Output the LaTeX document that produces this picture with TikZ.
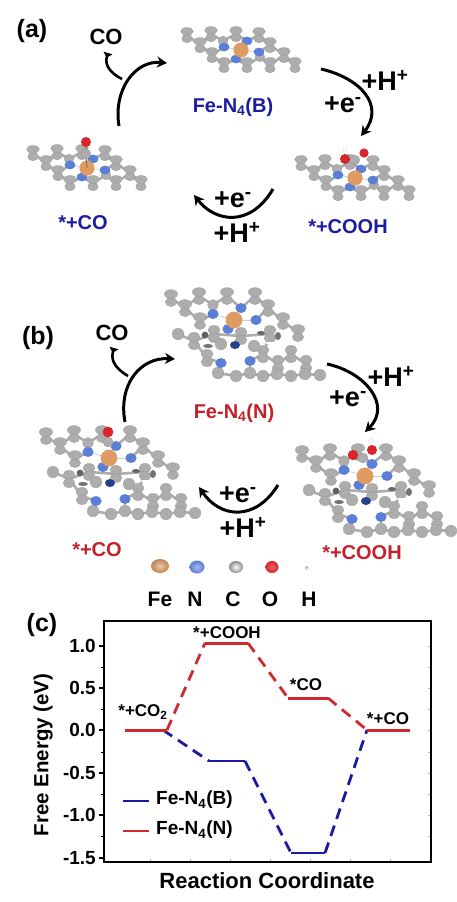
\documentclass[tikz,border=0pt]{standalone}
\usepackage{fontspec}
\setmainfont{Liberation Sans}
\usetikzlibrary{arrows.meta}
\definecolor{catgray}{HTML}{ADADAD}
\definecolor{nitblue}{HTML}{5B7FD6}
\definecolor{nitdark}{HTML}{27408B}
\definecolor{feorange}{HTML}{DE9C62}
\definecolor{oxred}{HTML}{D8262C}
\definecolor{labelblue}{HTML}{1C1CA0}
\definecolor{labelred}{HTML}{C4202A}
\definecolor{lineblue}{HTML}{1A1A9E}
\definecolor{linered}{HTML}{CF2A2E}
\tikzset{
  lab/.style={font=\bfseries\fontsize{20}{22}\selectfont,inner sep=0pt},
  bluelab/.style={lab,text=labelblue},
  redlab/.style={lab,text=labelred},
  panel/.style={font=\bfseries\fontsize{25}{27}\selectfont,inner sep=0pt},
  react/.style={font=\bfseries\fontsize{27}{29}\selectfont,inner sep=0pt},
  colab/.style={font=\bfseries\fontsize{22}{24}\selectfont,inner sep=0pt},
  keylab/.style={font=\bfseries\fontsize{21}{23}\selectfont,inner sep=0pt},
  plotlab/.style={font=\bfseries\fontsize{17}{19}\selectfont,inner sep=0pt},
  leglab/.style={font=\bfseries\fontsize{19}{21}\selectfont,inner sep=0pt,anchor=west},
  ticklab/.style={font=\bfseries\fontsize{19}{21}\selectfont,inner sep=0pt,anchor=east},
  catom/.style={fill=catgray,draw=catgray!88!black,line width=0.3pt},
  natom/.style={fill=nitblue},
  bondline/.style={draw=catgray,line width=2.6pt},
  cyc/.style={line width=3pt,-{Stealth[length=10pt,width=11pt]}},
  cobranch/.style={line width=2.6pt,{Triangle[reversed,length=5pt,width=9pt]}-},
  lvl/.style={line width=3pt},
  dashlvl/.style={line width=2.8pt,dash pattern=on 11pt off 7pt},
}
\tikzset{
  pics/flatsheet/.style={code={
    % Bonds of the carbon backbone
    \foreach \xa/\ya/\xb/\yb in {-54/-15/-41/-5,-30/-16/-41/-5,-41/-5/-29/5,-29/5/-17/15,-29/5/-17/-3,-30/-16/-18/-9,-5/-16/-18/-9,-5/-16/6/-9,18/-15/6/-9,18/-15/29/-5,29/-5/18/2,29/-5/43/5,43/5/29/15,43/5/54/15,19/7/29/15,19/7/6/15,-5/9/6/15,-5/9/-17/15} {
      \draw[bondline] (\xa,\ya) -- (\xb,\yb);
    }
    % Carbon backbone
    \foreach \x/\y in {-54/-15,-30/-16,-5/-16,18/-15,-41/-5,29/-5,-29/5,43/5,-17/15,6/15,29/15,54/15} {
      \draw[catom] (\x,\y+3.6) ellipse (5.2 and 4.2);
      \draw[catom] (\x,\y-3.6) ellipse (6.4 and 3.9);
    }
    \foreach \x/\y in {-18/-9,19/7} {
      \draw[catom] (\x,\y) circle (4.8);
    }
    % Nitrogen and iron
    \foreach \x/\y in {-17/-3,6/-9,-5/9,18/2} {
      \draw[catgray!60,line width=0.8pt] (0,0) -- (\x,\y);
      \fill[natom] (\x,\y) ellipse (5.4 and 4.4);
    }
    \fill[feorange] (0,0) circle (7.6);
  }},
  pics/layersheet/.style={code={
    % Upper sheet
    \foreach \xa/\ya/\xb/\yb in {-63/-22/-49/-12,-35/-24/-49/-12,-49/-12/-34/1,-35/-24/-21/-15,-7/-24/-21/-15,-7/-24/7/-12,21/-24/7/-12,21/-24/34/-12,34/-12/49/1,49/1/64/13,-34/1/-21/-6,34/-12/22/0} {
      \draw[bondline] (\xa,\ya) -- (\xb,\yb);
    }
    \foreach \x/\y in {-63/-22,-35/-24,-7/-24,21/-24,-49/-12,34/-12,-34/1,49/1,64/13} {
      \draw[catom] (\x,\y+4) ellipse (5.6 and 4.6);
      \draw[catom] (\x,\y-4) ellipse (6.6 and 4.4);
    }
    \draw[catom] (-21,-15) circle (5.4);
    % Lower sheet
    \foreach \xa/\ya/\xb/\yb in {-56/14/-40/21,-40/21/-27/38,-27/38/-13/43,-13/43/-16/53,-16/53/2/56,2/56/16/53,16/53/29/56,29/56/43/54,43/54/57/56,57/56/71/54,71/54/86/55,16/41/16/53,16/41/29/34,29/34/44/44,44/44/57/34,57/34/72/44,44/44/43/54,72/44/71/54,29/34/36/14,-20/14/7/16,7/16/36/14,-40/21/-20/14} {
      \draw[bondline] (\xa,\ya) -- (\xb,\yb);
    }
    \foreach \x/\y in {-40/21,-20/14,7/16,36/14,-27/38,29/34,57/34,44/44,72/44} {
      \draw[catom] (\x,\y-4) ellipse (6 and 4.6);
      \draw[catom] (\x,\y+4) ellipse (5.8 and 4.6);
    }
    \foreach \x/\y in {-56/14,-13/24,20/26,-16/53,2/56,16/53,29/56,43/54,57/56,71/54,86/55} {
      \draw[catom] (\x,\y) circle (5.8);
    }
    % Shadows between the sheets
    \fill[black!62] (-29,15) circle (3.4);
    \fill[black!55] (-26,26) ellipse (5 and 2);
    \fill[black!60] (27,13) ellipse (4 and 2);
    \fill[black!55] (44,16) ellipse (3 and 4);
    \fill[nitdark] (1,25) ellipse (5 and 4);
    \fill[white] (36,23) ellipse (5 and 1);
    % Nitrogen and iron
    \foreach \x/\y in {-13/43,16/41} {
      \fill[natom] (\x,\y) ellipse (5.6 and 5);
    }
    \foreach \x/\y in {-21/-6,7/-12,-6/9,22/0} {
      \draw[catgray!60,line width=0.8pt] (0,0) -- (\x,\y);
      \fill[natom] (\x,\y) ellipse (5.6 and 5);
    }
    \fill[feorange] (0,0) circle (8.4);
  }}
}
\begin{document}
\begin{tikzpicture}[x=1pt,y=-1pt]
  \useasboundingbox (0,0) rectangle (456,902);

  % Panel (a) sheets
  \pic at (241,50) {flatsheet};
  \pic at (87,168) {flatsheet};
  \pic at (355,178) {flatsheet};
  \draw[catgray!60!black,line width=0.8pt] (87,168) -- (86,154) -- (86,142);
  \draw[catom] (86,154) circle (4.8);
  \fill[oxred] (86,142) circle (5);
  \draw[catom] (355,160) circle (4.8);
  \fill[oxred] (345,159) circle (5);
  \fill[oxred] (364,153) circle (4.6);
  \draw[catgray!50,fill=white] (345,149) circle (2.2);

  % Panel (a) labels
  \node[panel] (panela) at (32,31) {(a)};
  \node[colab] (coa) at (106,37) {CO};
  \node[bluelab] (sheetb) at (233,107) {Fe-N\textsubscript{4}(B)};
  \node[bluelab] (coblue) at (83,223) {*+CO};
  \node[bluelab] (coohblue) at (348,227) {*+COOH};
  \node[react] (hplusa) at (385,80) {+H\textsuperscript{+}};
  \node[react] (eplusa) at (343,105) {+e\textsuperscript{-}};
  \node[react] (eplusb) at (233,200) {+e\textsuperscript{-}};
  \node[react] (hplusb) at (237,232) {+H\textsuperscript{+}};

  % Panel (a) arrows
  \coordinate (a1) at (119,126);
  \coordinate (a2) at (167,63);
  \coordinate (a3) at (122,79);
  \coordinate (a4) at (108,53);
  \coordinate (a5) at (321,69);
  \coordinate (a6) at (361,136);
  \coordinate (a7) at (273,189);
  \coordinate (a8) at (194,195);
  \draw[cyc] (a1) .. controls (113,90) and (135,60) .. (a2);
  \draw[cobranch] (a4) .. controls (104,66) and (112,74) .. (a3);
  \draw[cyc] (a5) .. controls (360,78) and (385,105) .. (a6);
  \draw[cyc] (a7) .. controls (250,228) and (215,222) .. (a8);

  % Panel (b) sheets
  \pic at (234,320) {layersheet};
  \pic at (109,458) {layersheet};
  \pic at (365,476) {layersheet};
  \draw[catom] (108,442) circle (5);
  \fill[oxred] (108,432) circle (5.4);
  \draw[catom] (363,458) circle (5);
  \fill[oxred] (353,455) circle (5.2);
  \fill[oxred] (372,450) circle (5);
  \draw[catgray!50,fill=white] (371,441) circle (2.4);

  % Panel (b) labels
  \node[panel] (panelb) at (38,338) {(b)};
  \node[colab] (cob) at (112,333) {CO};
  \node[redlab] (sheetn) at (234,413) {Fe-N\textsubscript{4}(N)};
  \node[redlab] (cored) at (97,550) {*+CO};
  \node[redlab] (coohred) at (362,553) {*+COOH};
  \node[react] (hplusc) at (391,376) {+H\textsuperscript{+}};
  \node[react] (eplusc) at (348,399) {+e\textsuperscript{-}};
  \node[react] (eplusd) at (238,495) {+e\textsuperscript{-}};
  \node[react] (hplusd) at (243,527) {+H\textsuperscript{+}};

  % Panel (b) arrows
  \coordinate (b1) at (125,422);
  \coordinate (b2) at (175,359);
  \coordinate (b3) at (128,376);
  \coordinate (b4) at (114,348);
  \coordinate (b5) at (327,364);
  \coordinate (b6) at (365,432);
  \coordinate (b7) at (278,485);
  \coordinate (b8) at (199,487);
  \draw[cyc] (b1) .. controls (118,385) and (140,357) .. (b2);
  \draw[cobranch] (b4) .. controls (110,362) and (118,370) .. (b3);
  \draw[cyc] (b5) .. controls (365,372) and (392,405) .. (b6);
  \draw[cyc] (b7) .. controls (255,522) and (220,518) .. (b8);

  % Element key
  \shade[inner color=feorange!55!white,outer color=feorange!85!black] (160,566) ellipse (9 and 7);
  \shade[inner color=nitblue!55!white,outer color=nitblue] (197,567) ellipse (7.5 and 6.5);
  \shade[inner color=white,outer color=black!45] (236,567) ellipse (7 and 6);
  \shade[inner color=oxred!70!white,outer color=oxred] (272,567) ellipse (6.5 and 6);
  \shade[inner color=white,outer color=black!35] (307,568) circle (2);
  \node[keylab] (keyfe) at (160,599) {Fe};
  \node[keylab] (keyn) at (195,599) {N};
  \node[keylab] (keyc) at (233,599) {C};
  \node[keylab] (keyo) at (270,599) {O};
  \node[keylab] (keyh) at (309,599) {H};

  % Panel (c) frame and ticks
  \node[panel] (panelc) at (42,625) {(c)};
  \foreach \x in {150,190,230,270,310,350,390} {
    \draw[gray!60] (\x,862) -- (\x,859);
  }
  \foreach \y in {646,667,688,709,730,752,773,794,815,836} {
    \draw[gray!60] (431,\y) -- (428,\y);
  }
  \foreach \y in {667,709,752,794,836} {
    \draw[line width=0.8pt] (104,\y) -- (101,\y);
  }
  \foreach \y/\t in {646/1.0,688/0.5,730/0.0,773/-0.5,815/-1.0,858/-1.5} {
    \draw[line width=1.2pt] (104,\y) -- (99,\y);
    \node[ticklab] at (96,\y) {\t};
  }
  \draw[line width=1.6pt] (104,621) rectangle (431,862);

  % Energy levels
  \draw[lineblue,line width=2pt] (209,761) -- (245,761);
  \draw[lineblue,line width=2pt] (291,853) -- (325,853);
  \draw[lineblue,dashlvl] (163,730) -- (209,761);
  \draw[lineblue,dashlvl] (245,761) -- (291,853);
  \draw[lineblue,dashlvl] (325,853) -- (367,730);
  \draw[linered,dashlvl] (167,730) -- (205,643);
  \draw[linered,dashlvl] (248,643) -- (288,698);
  \draw[linered,dashlvl] (328,698) -- (367,730);
  \draw[linered,lvl] (125,730) -- (167,730);
  \draw[linered,lvl] (205,643) -- (248,643);
  \draw[linered,lvl] (288,698) -- (328,698);
  \draw[linered,lvl] (367,730) -- (410,730);

  % Plot labels
  \node[plotlab] (lvlco2) at (143,712) {*+CO\textsubscript{2}};
  \node[plotlab] (lvlcooh) at (227,633) {*+COOH};
  \node[plotlab] (lvlco) at (306,685) {*CO};
  \node[plotlab] (lvlend) at (388,719) {*+CO};

  % Legend
  \draw[lineblue,line width=1.6pt] (123,801) -- (149,801);
  \draw[linered,line width=1.3pt] (123,831) -- (149,831);
  \node[leglab] (legb) at (156,800) {Fe-N\textsubscript{4}(B)};
  \node[leglab] (legn) at (156,830) {Fe-N\textsubscript{4}(N)};

  % Axis titles
  \node[lab,font=\bfseries\fontsize{20.5}{22}\selectfont,rotate=90] (ylab) at (43,755) {Free Energy (eV)};
  \node[colab] (xlab) at (267,881) {Reaction Coordinate};
\end{tikzpicture}
\end{document}
